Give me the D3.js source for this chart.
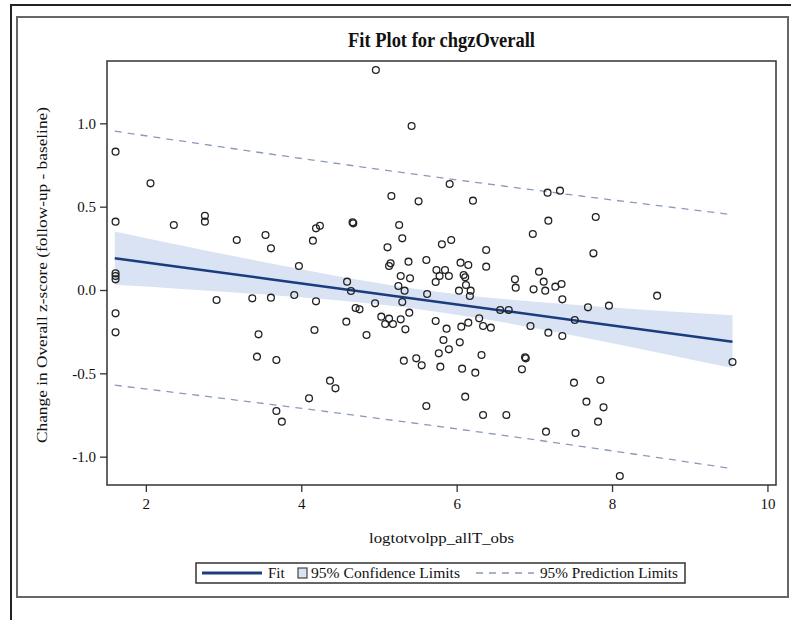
<!DOCTYPE html>
<html>
<head>
<meta charset="utf-8">
<script src="https://cdn.jsdelivr.net/npm/d3@7"></script>
<style>
  body { margin: 0; background: #fff; }
  svg text { font-family: "Liberation Serif", "DejaVu Serif", serif; fill: #111; }
</style>
</head>
<body>
<svg id="chart" width="791" height="620"></svg>
<script>
// observations (logtotvolpp_allT_obs, chgzOverall)
const obsX = [1.61, 2.06, 1.61, 2.36, 2.76, 2.76, 3.17, 3.54, 3.61, 4.19, 4.24, 4.15,
  3.97, 1.61, 1.61, 1.61, 2.91, 3.37, 3.61, 3.91, 4.19, 1.61, 1.61, 3.45, 4.17, 3.43,
  3.68, 4.10, 3.68, 3.75,
  4.96, 5.42, 5.91, 5.16, 5.51, 6.21, 7.17, 7.33, 4.66, 4.67, 5.26, 5.30, 5.11, 5.81,
  5.93, 6.38, 6.98, 7.18, 7.79, 7.76,
  5.38, 5.15, 5.13, 5.61, 6.05, 6.15, 6.38, 5.74, 5.85, 5.78, 5.90, 6.09, 6.11, 5.28,
  5.40, 5.73, 6.12, 5.25, 4.59, 4.64, 5.33, 6.03, 6.18, 6.17, 5.62, 5.30, 4.95, 4.70,
  4.75, 5.39, 5.03, 5.13, 5.28, 4.58, 5.08, 5.18, 5.34, 5.73, 5.87, 6.06, 6.15, 6.29,
  6.34, 6.44, 6.56, 6.67, 6.75, 6.76, 7.06, 6.99, 7.12, 7.14, 6.95, 7.18, 4.84, 5.83,
  6.04, 5.90, 5.77, 6.32, 6.88, 6.89, 6.84, 5.32, 5.48, 5.55, 5.79, 6.07, 6.24, 4.37,
  4.44, 6.11, 5.61, 6.34, 6.64, 7.15,
  7.27, 7.35, 7.36, 7.69, 7.96, 7.52, 8.58, 7.36, 9.55, 7.51, 7.85, 7.67, 7.89, 7.82,
  7.53, 8.10];
const obsY = [0.83, 0.64, 0.41, 0.39, 0.445, 0.41, 0.30, 0.33, 0.25, 0.37, 0.385, 0.296,
  0.144, 0.10, 0.084, 0.064, -0.06, -0.05, -0.046, -0.03, -0.068, -0.14, -0.254, -0.266, -0.24, -0.40,
  -0.42, -0.65, -0.726, -0.79,
  1.32, 0.984, 0.636, 0.564, 0.532, 0.536, 0.584, 0.596, 0.406, 0.40, 0.39, 0.31, 0.256, 0.274,
  0.30, 0.24, 0.336, 0.416, 0.438, 0.22,
  0.17, 0.16, 0.144, 0.18, 0.164, 0.15, 0.14, 0.12, 0.12, 0.084, 0.084, 0.09, 0.076, 0.084,
  0.07, 0.048, 0.03, 0.024, 0.05, -0.006, -0.004, -0.004, -0.004, -0.036, -0.024, -0.072, -0.08, -0.108,
  -0.116, -0.136, -0.16, -0.172, -0.176, -0.19, -0.204, -0.204, -0.236, -0.186, -0.232, -0.22, -0.196, -0.17,
  -0.216, -0.226, -0.12, -0.12, 0.064, 0.014, 0.11, 0.004, 0.05, -0.004, -0.216, -0.256, -0.27, -0.30,
  -0.314, -0.356, -0.38, -0.39, -0.404, -0.41, -0.476, -0.424, -0.41, -0.452, -0.46, -0.472, -0.496, -0.544,
  -0.59, -0.64, -0.696, -0.75, -0.75, -0.85,
  0.02, 0.036, -0.056, -0.104, -0.094, -0.18, -0.034, -0.276, -0.432, -0.556, -0.54, -0.67, -0.704, -0.79,
  -0.858, -1.116];

// fit line and limits
const fitX    = [1.6, 2.6, 3.6, 4.6, 5.6, 6.6, 7.6, 8.6, 9.55];
const fitY    = [0.191, 0.128, 0.065, 0.002, -0.061, -0.124, -0.187, -0.25, -0.31];
const clLower = [0.031, 0.002, -0.030, -0.068, -0.121, -0.194, -0.282, -0.376, -0.468];
const clUpper = [0.351, 0.254, 0.160, 0.072, -0.001, -0.054, -0.092, -0.124, -0.152];
const plLower = [-0.571, -0.628, -0.686, -0.746, -0.808, -0.872, -0.938, -1.006, -1.072];
const plUpper = [0.953, 0.884, 0.816, 0.750, 0.686, 0.624, 0.564, 0.506, 0.452];

const xTicks = [2, 4, 6, 8, 10];
const yTicks = [-1.0, -0.5, 0.0, 0.5, 1.0];

const svg = d3.select("#chart");

const plotL = 107, plotR = 776, plotT = 61, plotB = 485;

const x = d3.scaleLinear().domain([1.5, 10.11]).range([plotL, plotR]);
const y = d3.scaleLinear().domain([-1.17, 1.374]).range([plotB, plotT]);

// window border and graph frame
svg.append("path")
  .attr("d", "M11,620V5H791")
  .attr("fill", "none")
  .attr("stroke", "#222")
  .attr("stroke-width", 2);

svg.append("rect")
  .attr("x", 17).attr("y", 17)
  .attr("width", 771).attr("height", 580)
  .attr("fill", "none")
  .attr("stroke", "#666")
  .attr("stroke-width", 2);

svg.append("text")
  .attr("x", (plotL + plotR) / 2)
  .attr("y", 47)
  .attr("text-anchor", "middle")
  .attr("font-size", 21)
  .attr("font-weight", "bold")
  .attr("textLength", 187)
  .attr("lengthAdjust", "spacingAndGlyphs")
  .text("Fit Plot for chgzOverall");

const idx = d3.range(fitX.length);

// confidence band
svg.append("path")
  .datum(idx)
  .attr("fill", "#dae3f3")
  .attr("d", d3.area()
    .x(i => x(fitX[i]))
    .y0(i => y(clLower[i]))
    .y1(i => y(clUpper[i]))
    .curve(d3.curveMonotoneX));

// prediction limits
[plLower, plUpper].forEach(arr => {
  svg.append("path")
    .datum(idx)
    .attr("fill", "none")
    .attr("stroke", "#8c9ab8")
    .attr("stroke-width", 1.3)
    .attr("stroke-dasharray", "7,6")
    .attr("d", d3.line()
      .x(i => x(fitX[i]))
      .y(i => y(arr[i]))
      .curve(d3.curveMonotoneX));
});

// fit line
svg.append("path")
  .datum(idx)
  .attr("fill", "none")
  .attr("stroke", "#1b3c7e")
  .attr("stroke-width", 2.6)
  .attr("d", d3.line()
    .x(i => x(fitX[i]))
    .y(i => y(fitY[i])));

// observations
svg.append("g")
  .selectAll("circle")
  .data(d3.range(obsX.length))
  .enter()
  .append("circle")
  .attr("cx", i => x(obsX[i]))
  .attr("cy", i => y(obsY[i]))
  .attr("r", 3.4)
  .attr("fill", "none")
  .attr("stroke", "#222")
  .attr("stroke-width", 1.3);

// plot frame
svg.append("rect")
  .attr("x", plotL).attr("y", plotT)
  .attr("width", plotR - plotL).attr("height", plotB - plotT)
  .attr("fill", "none")
  .attr("stroke", "#333")
  .attr("stroke-width", 1.5);

// axes
const xAxis = svg.append("g")
  .attr("transform", `translate(0,${plotB})`)
  .call(d3.axisBottom(x).tickValues(xTicks).tickFormat(d => String(d)).tickSize(7).tickPadding(6));

const yAxis = svg.append("g")
  .attr("transform", `translate(${plotL},0)`)
  .call(d3.axisLeft(y).tickValues(yTicks).tickFormat(d => d.toFixed(1)).tickSize(7).tickPadding(4));

[xAxis, yAxis].forEach(g => {
  g.select(".domain").remove();
  g.selectAll("line").attr("stroke", "#333").attr("stroke-width", 1.3);
  g.selectAll("text")
    .attr("font-family", "Liberation Serif, serif")
    .attr("font-size", 15)
    .attr("fill", "#111");
});

svg.append("text")
  .attr("x", (plotL + plotR) / 2)
  .attr("y", 543)
  .attr("text-anchor", "middle")
  .attr("font-size", 15)
  .attr("textLength", 145)
  .attr("lengthAdjust", "spacingAndGlyphs")
  .text("logtotvolpp_allT_obs");

svg.append("text")
  .attr("transform", `translate(47,${(plotT + plotB) / 2 + 2}) rotate(-90)`)
  .attr("text-anchor", "middle")
  .attr("font-size", 15)
  .attr("textLength", 336)
  .attr("lengthAdjust", "spacingAndGlyphs")
  .text("Change in Overall z-score (follow-up - baseline)");

// legend
const lg = svg.append("g");
lg.append("rect")
  .attr("x", 196).attr("y", 563)
  .attr("width", 489).attr("height", 20)
  .attr("fill", "#fff")
  .attr("stroke", "#333")
  .attr("stroke-width", 1.5);

lg.append("line")
  .attr("x1", 202).attr("x2", 262).attr("y1", 573).attr("y2", 573)
  .attr("stroke", "#1b3c7e").attr("stroke-width", 3);
lg.append("text")
  .attr("x", 268).attr("y", 578).attr("font-size", 15)
  .text("Fit");

lg.append("rect")
  .attr("x", 298).attr("y", 568).attr("width", 9).attr("height", 10)
  .attr("fill", "#dae3f3").attr("stroke", "#444").attr("stroke-width", 1.2);
lg.append("text")
  .attr("x", 311).attr("y", 578).attr("font-size", 15)
  .attr("textLength", 149).attr("lengthAdjust", "spacingAndGlyphs")
  .text("95% Confidence Limits");

lg.append("line")
  .attr("x1", 476).attr("x2", 534).attr("y1", 573).attr("y2", 573)
  .attr("stroke", "#8c9ab8").attr("stroke-width", 1.3)
  .attr("stroke-dasharray", "7,6");
lg.append("text")
  .attr("x", 540).attr("y", 578).attr("font-size", 15)
  .attr("textLength", 138).attr("lengthAdjust", "spacingAndGlyphs")
  .text("95% Prediction Limits");
</script>
</body>
</html>
